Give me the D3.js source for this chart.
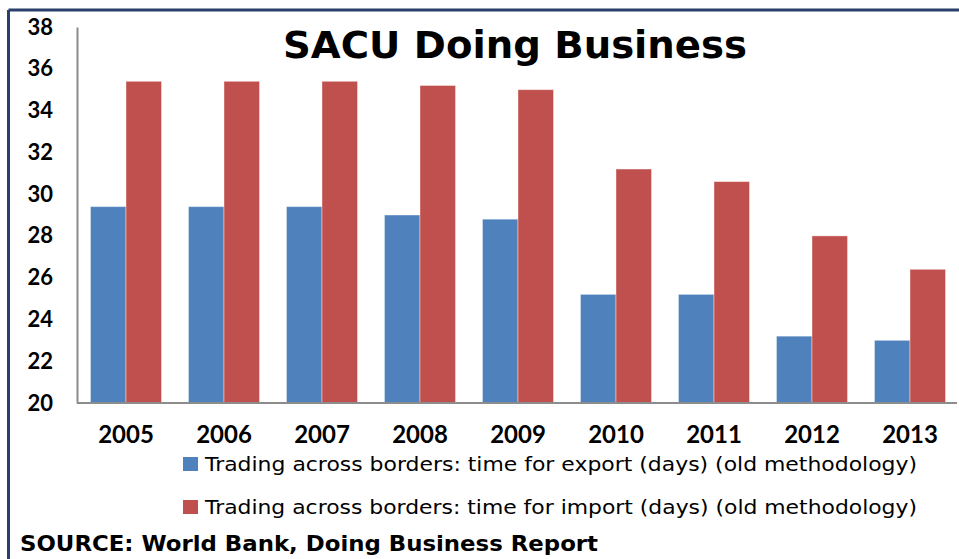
<!DOCTYPE html>
<html>
<head>
<meta charset="utf-8">
<script src="https://cdn.jsdelivr.net/npm/d3@7"></script>
<style>
  body { margin:0; background:#fff; }
  svg text { font-family: Lato, "Open Sans", sans-serif; fill:#000; }
</style>
</head>
<body>
<svg id="chart" width="959" height="559"></svg>
<script>
//-----------------------------------------------------------------------------
// DATA
var years      = ["2005","2006","2007","2008","2009","2010","2011","2012","2013"];
var exportDays = [29.4, 29.4, 29.4, 29.0, 28.8, 25.2, 25.2, 23.2, 23.0];
var importDays = [35.4, 35.4, 35.4, 35.2, 35.0, 31.2, 30.6, 28.0, 26.4];
var yTicks     = [20, 22, 24, 26, 28, 30, 32, 34, 36, 38];
var seriesNames = [
  "Trading across borders: time for export (days) (old methodology)",
  "Trading across borders: time for import (days) (old methodology)"
];
var seriesColors = ["#4F81BD", "#C0504D"];
//-----------------------------------------------------------------------------
// CONFIG
var config={
  'left'   : 77,
  'right'  : 959,
  'top'    : 27,
  'bottom' : 403,
  'frame'  : "#2A3F6C",
  'axis'   : "#8c8c8c",
  'wide'   : "'DejaVu Sans', Lato, sans-serif", // closest to the wide Gill Sans look
};
//-----------------------------------------------------------------------------
var svg = d3.select("svg#chart");

// frame (top + left only, the picture is cropped right/bottom)
svg.append("line").attr("x1",8.5).attr("x2",959).attr("y1",10).attr("y2",10)
   .attr("stroke",config.frame).attr("stroke-width",3);
svg.append("line").attr("x1",8.5).attr("x2",8.5).attr("y1",10).attr("y2",559)
   .attr("stroke",config.frame).attr("stroke-width",3);

var x0 = d3.scaleBand().domain(years).range([config.left, config.right]).paddingInner(0.275).paddingOuter(0.1375);
var x1 = d3.scaleBand().domain([0,1]).range([0, x0.bandwidth()]);
var y  = d3.scaleLinear().domain([20,38]).range([config.bottom, config.top]);

var rows = years.map(function(yr, i){ return {year:yr, vals:[exportDays[i], importDays[i]]}; });

//-----------------------------------------------------------------------------
// BARS
var groups = svg.selectAll("g.year").data(rows).enter()
   .append("g").attr("class","year")
   .attr("transform", function(d){ return "translate(" + x0(d.year) + ",0)"; });

groups.selectAll("rect").data(function(d){ return d.vals; }).enter()
   .append("rect")
   .attr("x", function(d,i){ return x1(i); })
   .attr("width", x1.bandwidth())
   .attr("y", function(d){ return y(d); })
   .attr("height", function(d){ return y(20) - y(d); })
   .attr("fill", function(d,i){ return seriesColors[i]; })
   .attr("stroke", "#ffffff").attr("stroke-opacity", 0.4).attr("stroke-width", 1);

//-----------------------------------------------------------------------------
// AXES
var yAxis = d3.axisLeft(y).tickValues(yTicks).tickSize(0).tickPadding(24);
var gy = svg.append("g").attr("transform","translate(" + config.left + ",0)").call(yAxis);
gy.select(".domain").attr("stroke",config.axis).attr("stroke-width",2);
gy.selectAll("text").attr("font-size",22).attr("font-weight","bold")
  .style("font-family","Lato, sans-serif").attr("fill","#000");

var xAxis = d3.axisBottom(x0).tickSize(0).tickPadding(23);
var gx = svg.append("g").attr("transform","translate(0," + config.bottom + ")").call(xAxis);
gx.select(".domain").attr("stroke",config.axis).attr("stroke-width",2)
  .attr("d","M" + config.left + ",0H957");
gx.selectAll("text").attr("font-size",24).attr("font-weight","bold")
  .style("font-family","Lato, sans-serif").attr("fill","#000");

//-----------------------------------------------------------------------------
// TITLE
svg.append("text").attr("x",515).attr("y",58).attr("text-anchor","middle")
   .style("font-family",config.wide)
   .attr("font-size",37).attr("font-weight","bold")
   .attr("textLength",464).attr("lengthAdjust","spacingAndGlyphs")
   .text("SACU Doing Business");

//-----------------------------------------------------------------------------
// LEGEND
var legend = svg.selectAll("g.legend").data(seriesNames).enter()
   .append("g").attr("class","legend")
   .attr("transform", function(d,i){ return "translate(183," + (457 + i*43) + ")"; });
legend.append("rect").attr("width",15).attr("height",14)
   .attr("fill", function(d,i){ return seriesColors[i]; });
legend.append("text").attr("x",22).attr("y",14).attr("font-size",20)
   .style("font-family",config.wide)
   .attr("textLength",712).attr("lengthAdjust","spacingAndGlyphs")
   .text(function(d){ return d; });

//-----------------------------------------------------------------------------
// SOURCE
svg.append("text").attr("x",20).attr("y",551).attr("font-size",22).attr("font-weight","bold")
   .style("font-family",config.wide)
   .attr("textLength",578).attr("lengthAdjust","spacingAndGlyphs")
   .text("SOURCE: World Bank, Doing Business Report");
</script>
</body>
</html>
